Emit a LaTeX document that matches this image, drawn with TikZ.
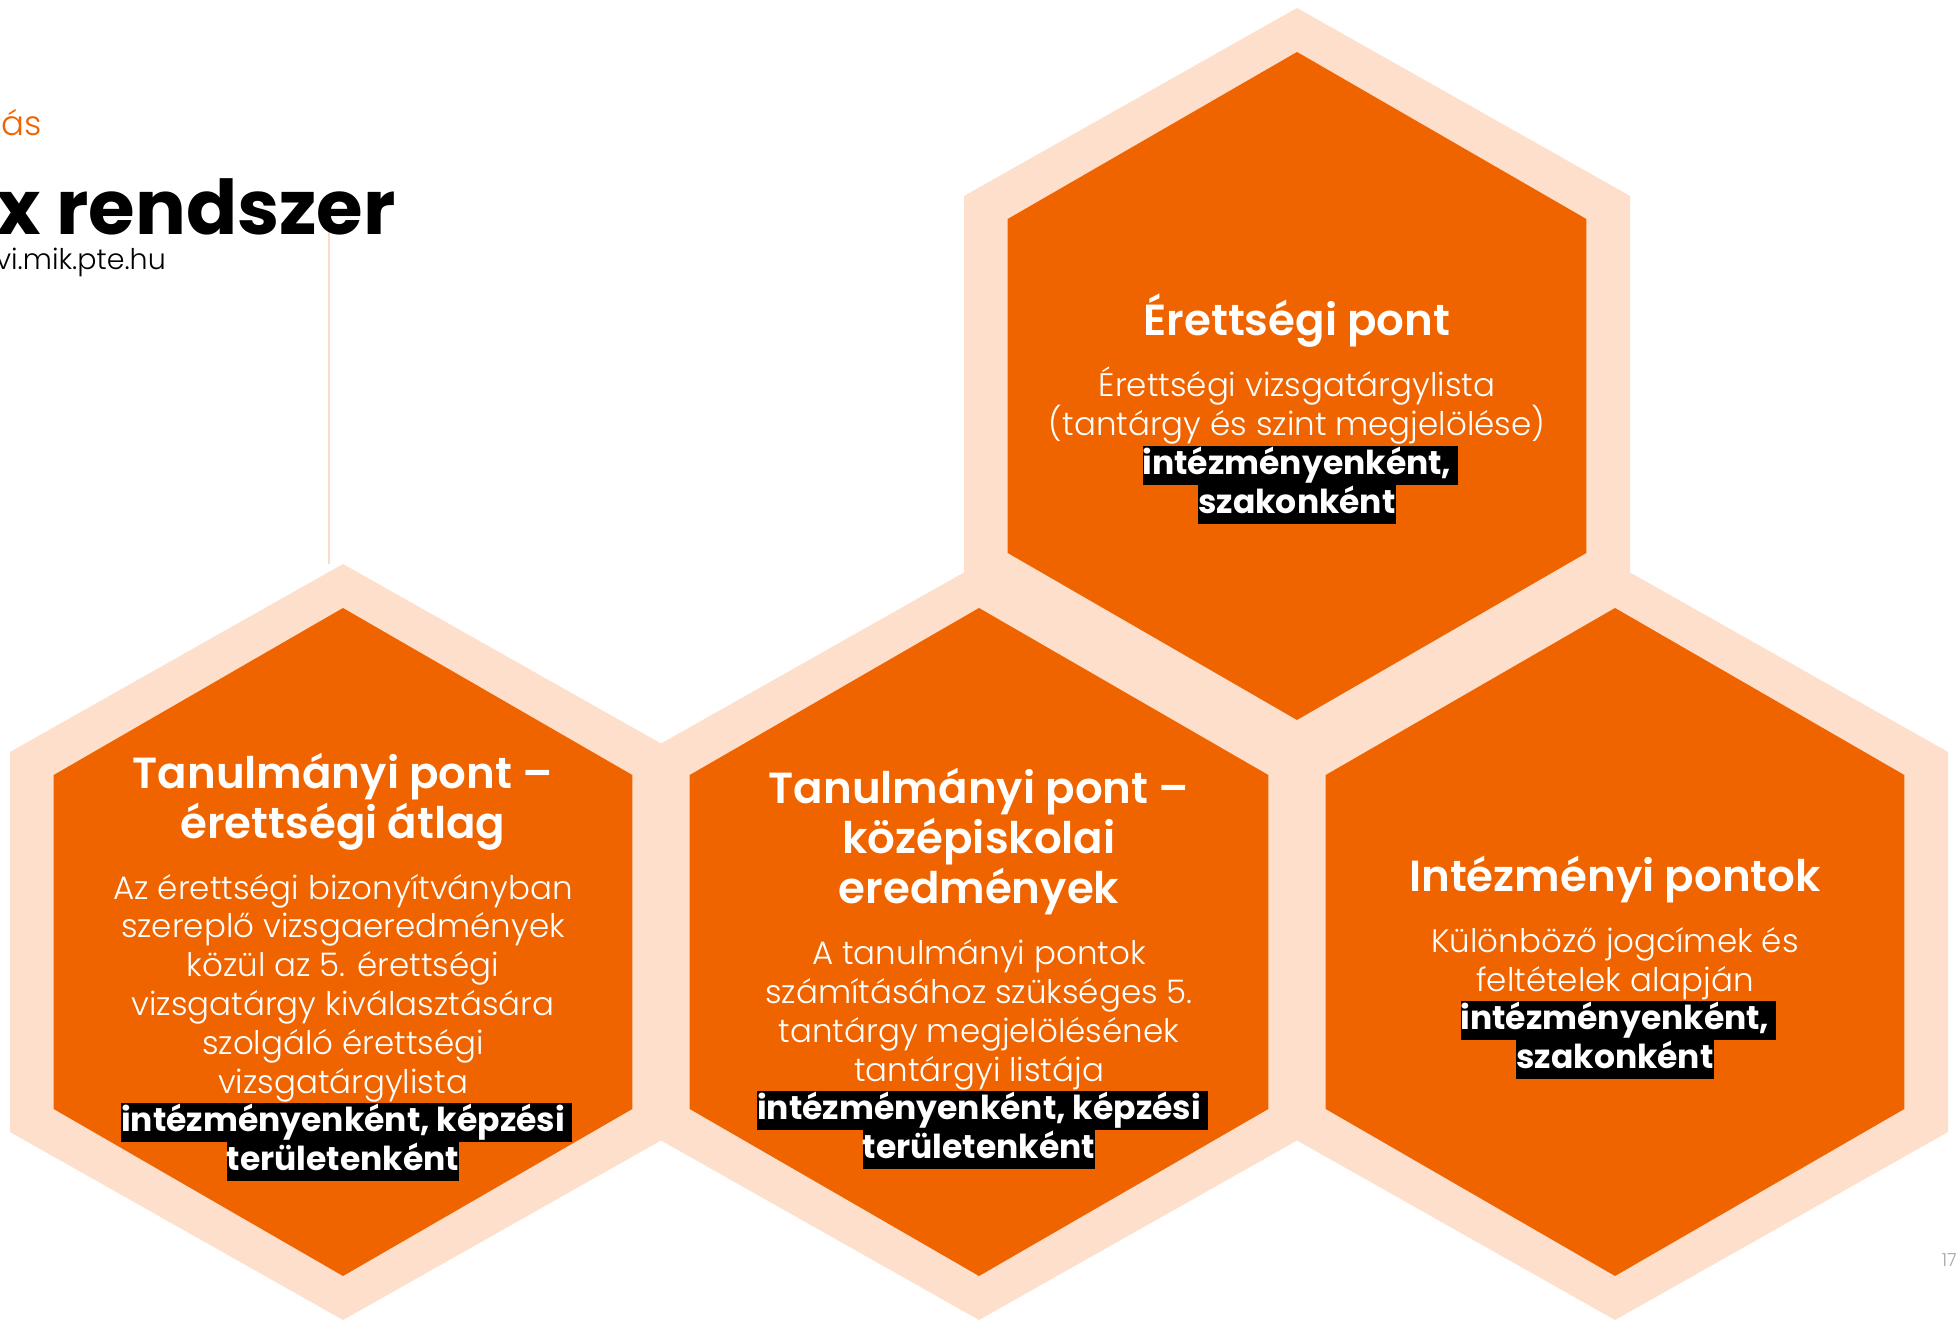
\documentclass[tikz,border=0pt]{standalone}
\usepackage{fontspec}
\setmainfont{Poppins Light}[BoldFont={Poppins Bold}]
\newfontfamily\titlefont{Poppins SemiBold}
\usepackage{xcolor}
\usetikzlibrary{positioning}

\definecolor{pteorange}{HTML}{F06400}
\definecolor{ptepeach}{HTML}{FEDFCB}
\definecolor{pteline}{HTML}{F8DCC8}
\definecolor{pagegray}{HTML}{A6A6A6}

\setlength{\fboxsep}{0pt}
\setlength{\lineskip}{0pt}
\newcommand{\ttl}[1]{{\titlefont\fontsize{43.5}{50}\selectfont\rule[-14pt]{0pt}{50pt}#1}}
\newcommand{\bd}{\rule[-9.3pt]{0pt}{38.8pt}}
\newcommand{\hilite}[1]{\colorbox{black}{\fontsize{33}{39}\selectfont\bfseries\rule[-10pt]{0pt}{39pt}#1}}
\newcommand{\hilitesp}[1]{\hilite{#1}\rlap{\hilite{\ }}}

\begin{document}
\begin{tikzpicture}[
    x=1pt, y=1pt,
    hexrim/.style={fill=ptepeach},
    hexcore/.style={fill=pteorange},
    hextext/.style={align=center, inner sep=0pt, text=white, anchor=south,
        font=\fontsize{32.5}{38.8}\selectfont}
]
    \clip (0,0) rectangle (1958,1323);
    \fill[white] (0,0) rectangle (1958,1323);

    % Hexagon centres
    \coordinate (erettsegi) at (1297,937);
    \coordinate (atlag) at (343,381);
    \coordinate (kozep) at (979,381);
    \coordinate (intezmenyi) at (1615,381);

    % Thin line from the title
    \coordinate (line top) at (329,1095);
    \draw[pteline, line width=1.5pt] (line top) -- ([shift={(-14,378)}]atlag);

    % Light rims, then orange cores
    \foreach \h in {erettsegi, atlag, kozep, intezmenyi}
        \fill[hexrim] ([shift={(0,378)}]\h) -- ([shift={(333,190)}]\h)
            -- ([shift={(333,-190)}]\h) -- ([shift={(0,-378)}]\h)
            -- ([shift={(-333,-190)}]\h) -- ([shift={(-333,190)}]\h) -- cycle;
    \foreach \h in {erettsegi, atlag, kozep, intezmenyi}
        \fill[hexcore] ([shift={(0,334)}]\h) -- ([shift={(289.3,167)}]\h)
            -- ([shift={(289.3,-167)}]\h) -- ([shift={(0,-334)}]\h)
            -- ([shift={(-289.3,-167)}]\h) -- ([shift={(-289.3,167)}]\h) -- cycle;

    % Slide heading, cut at the left edge
    \node[anchor=base east, inner sep=0pt, text=pteorange, font=\fontsize{34}{40}\selectfont] (kicker) at (42,1187) {ás};
    \node[anchor=base east, inner sep=0pt, font=\fontsize{75.5}{90}\selectfont\bfseries] (heading) at (396,1088) {x rendszer};
    \node[anchor=base east, inner sep=0pt, font=\fontsize{28.5}{32}\selectfont] (weblink) at (166,1053) {vi.mik.pte.hu};

    % Texts of the hexagons
    \node[hextext] (erettsegi text) at ([yshift=-138]erettsegi) {
        \ttl{Érettségi pont}\\[17.5pt]
        \bd Érettségi vizsgatárgylista\\
        \bd (tantárgy és szint megjelölése)\\
        \hilitesp{intézményenként,}\\
        \hilite{szakonként}};
    \node[hextext] (atlag text) at ([yshift=-239]atlag) {
        \ttl{Tanulmányi pont –}\\
        \ttl{érettségi átlag}\\[17.5pt]
        \bd Az érettségi bizonyítványban\\
        \bd szereplő vizsgaeredmények\\
        \bd közül az 5. érettségi\\
        \bd vizsgatárgy kiválasztására\\
        \bd szolgáló érettségi\\
        \bd vizsgatárgylista\\
        \hilitesp{intézményenként, képzési}\\
        \hilite{területenként}};
    \node[hextext] (kozep text) at ([yshift=-227]kozep) {
        \ttl{Tanulmányi pont –}\\
        \ttl{középiskolai}\\
        \ttl{eredmények}\\[17.5pt]
        \bd A tanulmányi pontok\\
        \bd számításához szükséges 5.\\
        \bd tantárgy megjelölésének\\
        \bd tantárgyi listája\\
        \hilitesp{intézményenként, képzési}\\
        \hilite{területenként}};
    \node[hextext] (intezmenyi text) at ([yshift=-137]intezmenyi) {
        \ttl{Intézményi pontok}\\[17.5pt]
        \bd Különböző jogcímek és\\
        \bd feltételek alapján\\
        \hilitesp{intézményenként,}\\
        \hilite{szakonként}};

    % Page number
    \node[anchor=base east, inner sep=0pt, text=pagegray, font=\fontsize{18}{20}\selectfont] (page) at (1957,57) {17};
\end{tikzpicture}
\end{document}
